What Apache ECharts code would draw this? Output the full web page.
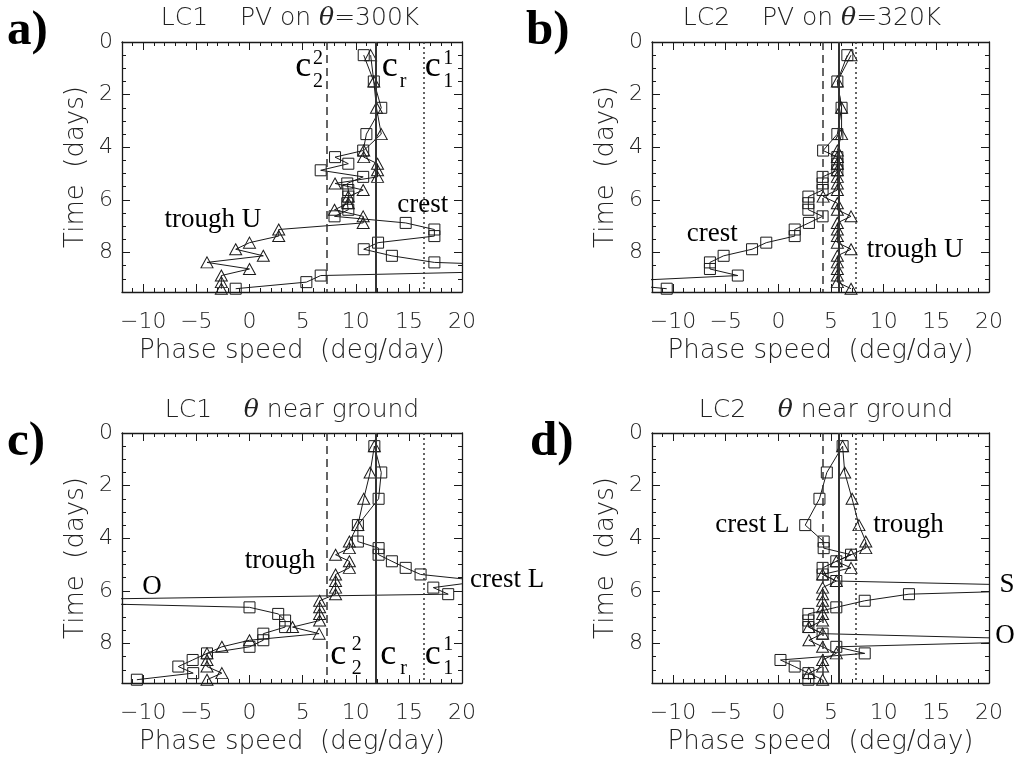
<!DOCTYPE html>
<html>
<head>
<meta charset="utf-8">
<script src="https://cdn.jsdelivr.net/npm/echarts@6/dist/echarts.min.js"></script>
<style>
  html, body { margin: 0; padding: 0; background: #fff; }
  #chart { width: 1027px; height: 761px; }
</style>
</head>
<body>
<div id="chart"></div>
<script>
// Sampling times (days)
const days = [0.5, 1.5, 2.5, 3.5, 4.125, 4.375, 4.625, 4.875, 5.125, 5.375, 5.625, 5.875, 6.125,
              6.375, 6.625, 6.875, 7.125, 7.375, 7.625, 7.875, 8.125, 8.375, 8.625, 8.875, 9.125, 9.375];

// a) LC1, PV on theta = 300K  (phase speed, deg/day)
const lc1PvSquares   = [10.75, 11.7, 12.4, 11.0, 10.7, 8.05, 9.3, 6.7, 10.7, 9.2, 9.3, 9.3, 9.2, 9.3,
                        8.0, 14.7, 17.4, 17.4, 12.1, 10.75, 13.4, 17.4, 35, 6.7, 5.35, -1.3];
const lc1PvTriangles = [11.4, 11.7, 11.95, 12.4, 10.75, 10.75, 12.05, 12.05, 12.05, 8.05, 10.7, 9.3, 9.3,
                        8.0, 10.7, 10.7, 2.75, 2.75, 0.0, -1.3, 1.3, -4.0, 0.0, -2.65, -2.65, -2.65];

// b) LC2, PV on theta = 320K
const lc2PvSquares   = [6.55, 5.6, 6.0, 5.6, 4.25, 5.6, 5.6, 5.6, 4.2, 4.2, 4.2, 2.85, 2.85, 2.85,
                        4.2, 2.9, 1.55, 1.55, -1.15, -2.5, -5.2, -6.5, -6.5, -3.85, -17, -10.6];
const lc2PvTriangles = [6.9, 5.6, 6.0, 6.0, 5.6, 5.6, 5.6, 5.6, 5.6, 5.6, 5.6, 4.25, 5.6, 5.6,
                        6.9, 5.6, 5.6, 5.6, 5.6, 6.9, 5.6, 5.6, 5.6, 5.6, 5.6, 6.9];

// c) LC1, theta near ground
const lc1SfcSquares   = [11.75, 12.4, 12.15, 10.2, 10.2, 12.15, 12.15, 13.4, 14.7, 16.1, 22, 17.3, 18.7,
                         -26, 0.0, 2.7, 3.35, 3.35, 1.3, 1.3, 0.0, -4.0, -5.35, -6.7, -5.3, -10.6];
const lc1SfcTriangles = [11.75, 11.35, 10.75, 10.2, 9.4, 9.4, 8.1, 9.4, 9.4, 8.1, 8.1, 8.1, 8.1,
                         6.6, 6.6, 6.6, 6.6, 4.05, 6.55, 0.0, -2.6, -4.0, -4.0, -4.0, -2.6, -4.0];

// d) LC2, theta near ground
const lc2SfcSquares   = [6.1, 4.6, 3.9, 2.55, 4.3, 4.3, 6.9, 5.5, 4.2, 4.2, 5.5, 34, 12.4,
                         8.2, 5.5, 2.85, 2.85, 2.85, 4.2, 29, 5.5, 8.2, 0.2, 1.55, 2.85, 2.85];
const lc2SfcTriangles = [6.1, 6.3, 7.0, 7.65, 8.3, 8.3, 6.9, 5.5, 6.9, 4.2, 5.5, 4.2, 4.2,
                         4.2, 4.2, 4.2, 4.2, 2.9, 4.2, 2.9, 4.2, 5.5, 4.2, 4.2, 2.9, 4.2];

// Reference phase speeds: c2^2 (dashed), c_r (solid), c1^1 (dotted)
const lc1RefSpeeds = [7.3, 11.9, 16.4];
const lc2RefSpeeds = [4.2, 5.7, 7.3];

// Axis ticks
const xMajorTicks = [-10, -5, 0, 5, 10, 15, 20];
const yMajorTicks = [0, 2, 4, 6, 8];

const INK = '#1a1a1a';
const TXT = '#222';
const SANS = 'DejaVu Sans';
const SANS_W = 200;
const SERIF = 'Liberation Serif';

const panels = [
  { grid: { left: 122, top: 42, width: 340, height: 250 }, sq: lc1PvSquares, tri: lc1PvTriangles, refs: lc1RefSpeeds },
  { grid: { left: 652, top: 42, width: 337, height: 250 }, sq: lc2PvSquares, tri: lc2PvTriangles, refs: lc2RefSpeeds },
  { grid: { left: 122, top: 433, width: 340, height: 250 }, sq: lc1SfcSquares, tri: lc1SfcTriangles, refs: lc1RefSpeeds },
  { grid: { left: 652, top: 433, width: 337, height: 250 }, sq: lc2SfcSquares, tri: lc2SfcTriangles, refs: lc2RefSpeeds }
];

const fmtNum = v => (v < 0 ? '\u2212' + (-v) : String(v));
const tickLine = { color: INK, width: 1 };
const labelFont = { fontFamily: SANS, fontWeight: SANS_W, fontSize: 22, color: TXT };
const nameFont = { fontFamily: SANS, fontWeight: SANS_W, fontSize: 26, color: TXT };

function xAxesFor(g) {
  const base = {
    gridIndex: g, type: 'value', min: -12, max: 20, interval: 1,
    axisLine: { show: true, onZero: false, lineStyle: { color: INK, width: 1.3 } },
    axisTick: { show: true, inside: true, length: 4, lineStyle: tickLine },
    axisLabel: { show: false }, splitLine: { show: false }
  };
  const major = {
    ...base,
    axisLine: { show: false, onZero: false },
    axisTick: { show: true, inside: true, length: 8, customValues: xMajorTicks, lineStyle: tickLine }
  };
  return [
    { ...base, position: 'bottom',
      name: 'Phase speed  (deg/day)', nameLocation: 'middle', nameGap: 46,
      nameTextStyle: nameFont,
      axisLabel: { show: true, customValues: xMajorTicks, formatter: fmtNum, margin: 19, ...labelFont } },
    { ...major, position: 'bottom' },
    { ...base, position: 'top' },
    { ...major, position: 'top' }
  ];
}

function yAxesFor(g) {
  const base = {
    gridIndex: g, type: 'value', min: 0, max: 9.5, interval: 0.5, inverse: true,
    axisLine: { show: true, onZero: false, lineStyle: { color: INK, width: 1.3 } },
    axisTick: { show: true, inside: true, length: 4, lineStyle: tickLine },
    axisLabel: { show: false }, splitLine: { show: false }
  };
  const major = {
    ...base,
    axisLine: { show: false, onZero: false },
    axisTick: { show: true, inside: true, length: 8, customValues: yMajorTicks, lineStyle: tickLine }
  };
  return [
    { ...base, position: 'left',
      name: 'Time  (days)', nameLocation: 'middle', nameGap: 33,
      nameTextStyle: nameFont,
      axisLabel: { show: true, customValues: yMajorTicks, margin: 9, ...labelFont } },
    { ...major, position: 'left' },
    { ...base, position: 'right' },
    { ...major, position: 'right' }
  ];
}

const refLineStyles = [
  { type: [8, 5], color: '#333', width: 1.5 },
  { type: 'solid', color: '#333', width: 2 },
  { type: [2, 3], color: '#333', width: 1.5 }
];

const series = [];
panels.forEach((p, g) => {
  const common = {
    type: 'line', xAxisIndex: g * 4, yAxisIndex: g * 4, clip: true,
    lineStyle: { color: INK, width: 1 },
    emphasis: { disabled: true }, animation: false, silent: true
  };
  series.push({
    ...common,
    data: days.map((t, i) => [p.sq[i], t]),
    symbol: 'rect', symbolSize: 11,
    itemStyle: { color: 'rgba(0,0,0,0)', borderColor: INK, borderWidth: 1 },
    markLine: {
      silent: true, symbol: 'none', animation: false,
      label: { show: false },
      data: p.refs.map((c, k) => ({ xAxis: c, lineStyle: refLineStyles[k] }))
    }
  });
  series.push({
    ...common,
    data: days.map((t, i) => [p.tri[i], t]),
    symbol: 'triangle', symbolSize: [12, 11],
    itemStyle: { color: 'rgba(0,0,0,0)', borderColor: INK, borderWidth: 1 }
  });
});

const chart = echarts.init(document.getElementById('chart'), null, { renderer: 'canvas' });
chart.setOption({
  backgroundColor: '#fff',
  animation: false,
  grid: panels.map(p => ({ ...p.grid, containLabel: false })),
  xAxis: panels.flatMap((p, g) => xAxesFor(g)),
  yAxis: panels.flatMap((p, g) => yAxesFor(g)),
  series
});

// Panel letters and titles
const titleRich = {
  n: { fontFamily: SANS, fontWeight: SANS_W, fontSize: 25, fill: TXT },
  t: { fontFamily: 'DejaVu Serif', fontStyle: 'italic', fontSize: 25, fill: TXT }
};
const headers = [
  { letter: 'a)', lx: 7,   ly: 31,  title: '{n|LC1    PV on }{t|\u03b8}{n|=300K}', tx: 290, ty: 18 },
  { letter: 'b)', lx: 526, ly: 31,  title: '{n|LC2    PV on }{t|\u03b8}{n|=320K}', tx: 812, ty: 18 },
  { letter: 'c)', lx: 7,   ly: 442, title: '{n|LC1    }{t|\u03b8}{n| near ground}', tx: 292, ty: 410 },
  { letter: 'd)', lx: 530, ly: 442, title: '{n|LC2    }{t|\u03b8}{n| near ground}', tx: 826, ty: 410 }
];

// Annotations placed in data coordinates of each panel: [panel, text, x, y, fontSize, align]
const notes = [
  [0, 'trough U', -8.0, 6.75, 27, 'left'],
  [0, 'crest', 13.9, 6.2, 27, 'left'],
  [0, 'c', 4.3, 0.95, 36, 'left'], [0, '2', 6.45, 0.62, 20, 'center'], [0, '2', 6.45, 1.5, 20, 'center'],
  [0, 'c', 12.45, 0.95, 36, 'left'], [0, 'r', 14.45, 1.5, 20, 'center'],
  [0, 'c', 16.5, 0.95, 36, 'left'], [0, '1', 18.7, 0.62, 20, 'center'], [0, '1', 18.7, 1.5, 20, 'center'],
  [1, 'crest', -8.7, 7.3, 27, 'left'],
  [1, 'trough U', 8.4, 7.9, 27, 'left'],
  [2, 'trough', -0.45, 4.85, 27, 'left'],
  [2, 'O', -10.1, 5.85, 27, 'left'],
  [2, 'crest L', 20.75, 5.6, 27, 'left'],
  [2, 'c', 7.6, 8.42, 36, 'left'], [2, '2', 10.1, 8.06, 20, 'center'], [2, '2', 10.1, 8.94, 20, 'center'],
  [2, 'c', 12.3, 8.42, 36, 'left'], [2, 'r', 14.5, 8.94, 20, 'center'],
  [2, 'c', 16.5, 8.42, 36, 'left'], [2, '1', 18.7, 8.06, 20, 'center'], [2, '1', 18.7, 8.94, 20, 'center'],
  [3, 'crest L', -6.0, 3.5, 27, 'left'],
  [3, 'trough', 9.0, 3.5, 27, 'left'],
  [3, 'S', 21.0, 5.78, 27, 'left'],
  [3, 'O', 20.6, 7.72, 27, 'left']
];

const graphics = [];
headers.forEach(h => {
  graphics.push({ type: 'text', x: h.lx, y: h.ly, silent: true,
    style: { text: h.letter, fontFamily: SERIF, fontWeight: 'bold', fontSize: 49, fill: '#000',
             align: 'left', verticalAlign: 'middle' } });
  graphics.push({ type: 'text', x: h.tx, y: h.ty, silent: true,
    style: { text: h.title, rich: titleRich, align: 'center', verticalAlign: 'middle' } });
});
notes.forEach(([g, text, x, y, size, align]) => {
  const pt = chart.convertToPixel({ xAxisIndex: g * 4, yAxisIndex: g * 4 }, [x, y]);
  graphics.push({ type: 'text', x: pt[0], y: pt[1], silent: true,
    style: { text, fontFamily: SERIF, fontSize: size, fill: '#000', align, verticalAlign: 'middle' } });
});
chart.setOption({ graphic: graphics });
</script>
</body>
</html>
